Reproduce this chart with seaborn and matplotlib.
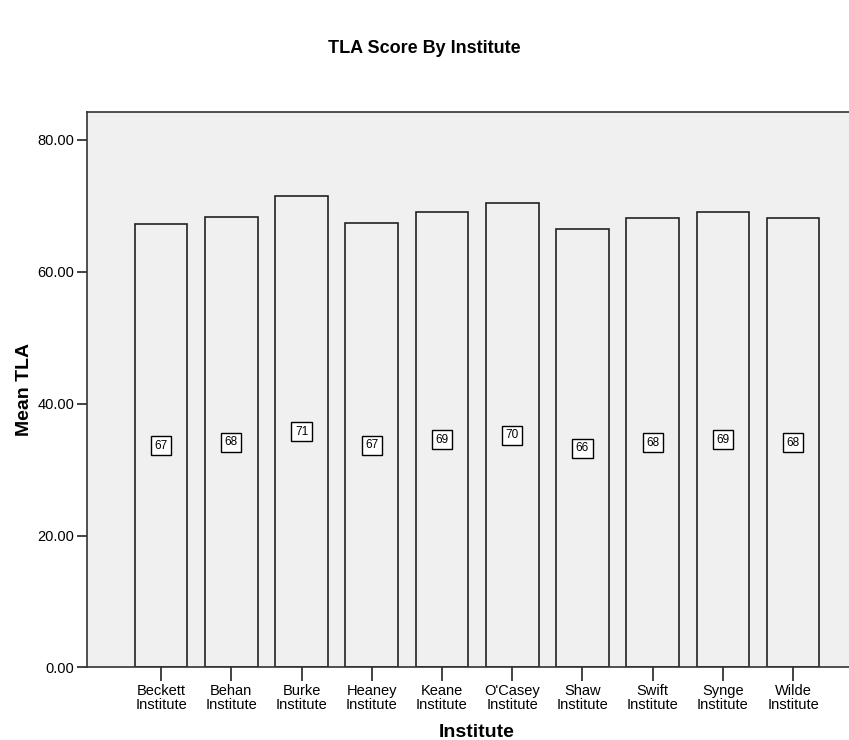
import matplotlib
matplotlib.use("Agg")
import matplotlib.pyplot as plt
import seaborn as sns
import pandas as pd

institutes = ["Beckett\nInstitute", "Behan\nInstitute", "Burke\nInstitute", "Heaney\nInstitute",
              "Keane\nInstitute", "O'Casey\nInstitute", "Shaw\nInstitute", "Swift\nInstitute",
              "Synge\nInstitute", "Wilde\nInstitute"]
mean_tla = [67.2, 68.3, 71.4, 67.3, 69.0, 70.4, 66.5, 68.1, 69.0, 68.1]
yticks = [0, 20, 40, 60, 80]

df = pd.DataFrame({"Institute": institutes, "TLA": mean_tla})

sns.set_style("white")
plt.rcParams['font.family'] = ['Liberation Sans', 'DejaVu Sans']
plt.rcParams['text.color'] = 'black'
plt.rcParams['axes.labelcolor'] = 'black'
plt.rcParams['xtick.color'] = 'black'
plt.rcParams['ytick.color'] = 'black'

fig = plt.figure(figsize=(8.49, 7.4), dpi=100)
ax = fig.add_axes([0.1021, 0.098, 0.9197, 0.7507])
ax.set_facecolor("#f0f0f0")

sns.barplot(data=df, x="Institute", y="TLA", color="#f0f0f0", edgecolor="#222222",
            linewidth=1.2, width=0.75, ax=ax)

# value labels at half bar height, in small boxes
for i, v in enumerate(mean_tla):
    ax.text(i, v / 2, f"{v:.0f}", ha="center", va="center", fontsize=8.5,
            bbox=dict(boxstyle="square,pad=0.3", facecolor="white", edgecolor="black", linewidth=1))

ax.set_xlim(-1.06, len(institutes) - 1 + 1.06)
ax.set_ylim(0, 84.2)
ax.set_yticks(yticks)
ax.set_yticklabels([f"{t:.2f}" for t in yticks])

for s in ax.spines.values():
    s.set_color("#333333")
    s.set_linewidth(1.2)

ax.tick_params(axis="y", left=True, direction="out", length=7, width=1.2, color="#222222",
               labelsize=10.5, pad=2)
ax.tick_params(axis="x", bottom=True, direction="out", length=10, width=1.2, color="#222222",
               labelsize=10.5, pad=2)
for lbl in ax.get_xticklabels():
    lbl.set_linespacing(0.95)

ax.set_xlabel("Institute", fontsize=14, fontweight="bold", labelpad=9)
ax.set_ylabel("Mean TLA", fontsize=14, fontweight="bold", labelpad=3)
fig.text(0.5, 0.934, "TLA Score By Institute", ha="center", va="center", fontsize=13, fontweight="bold")

fig.savefig("out.png", dpi=100)
